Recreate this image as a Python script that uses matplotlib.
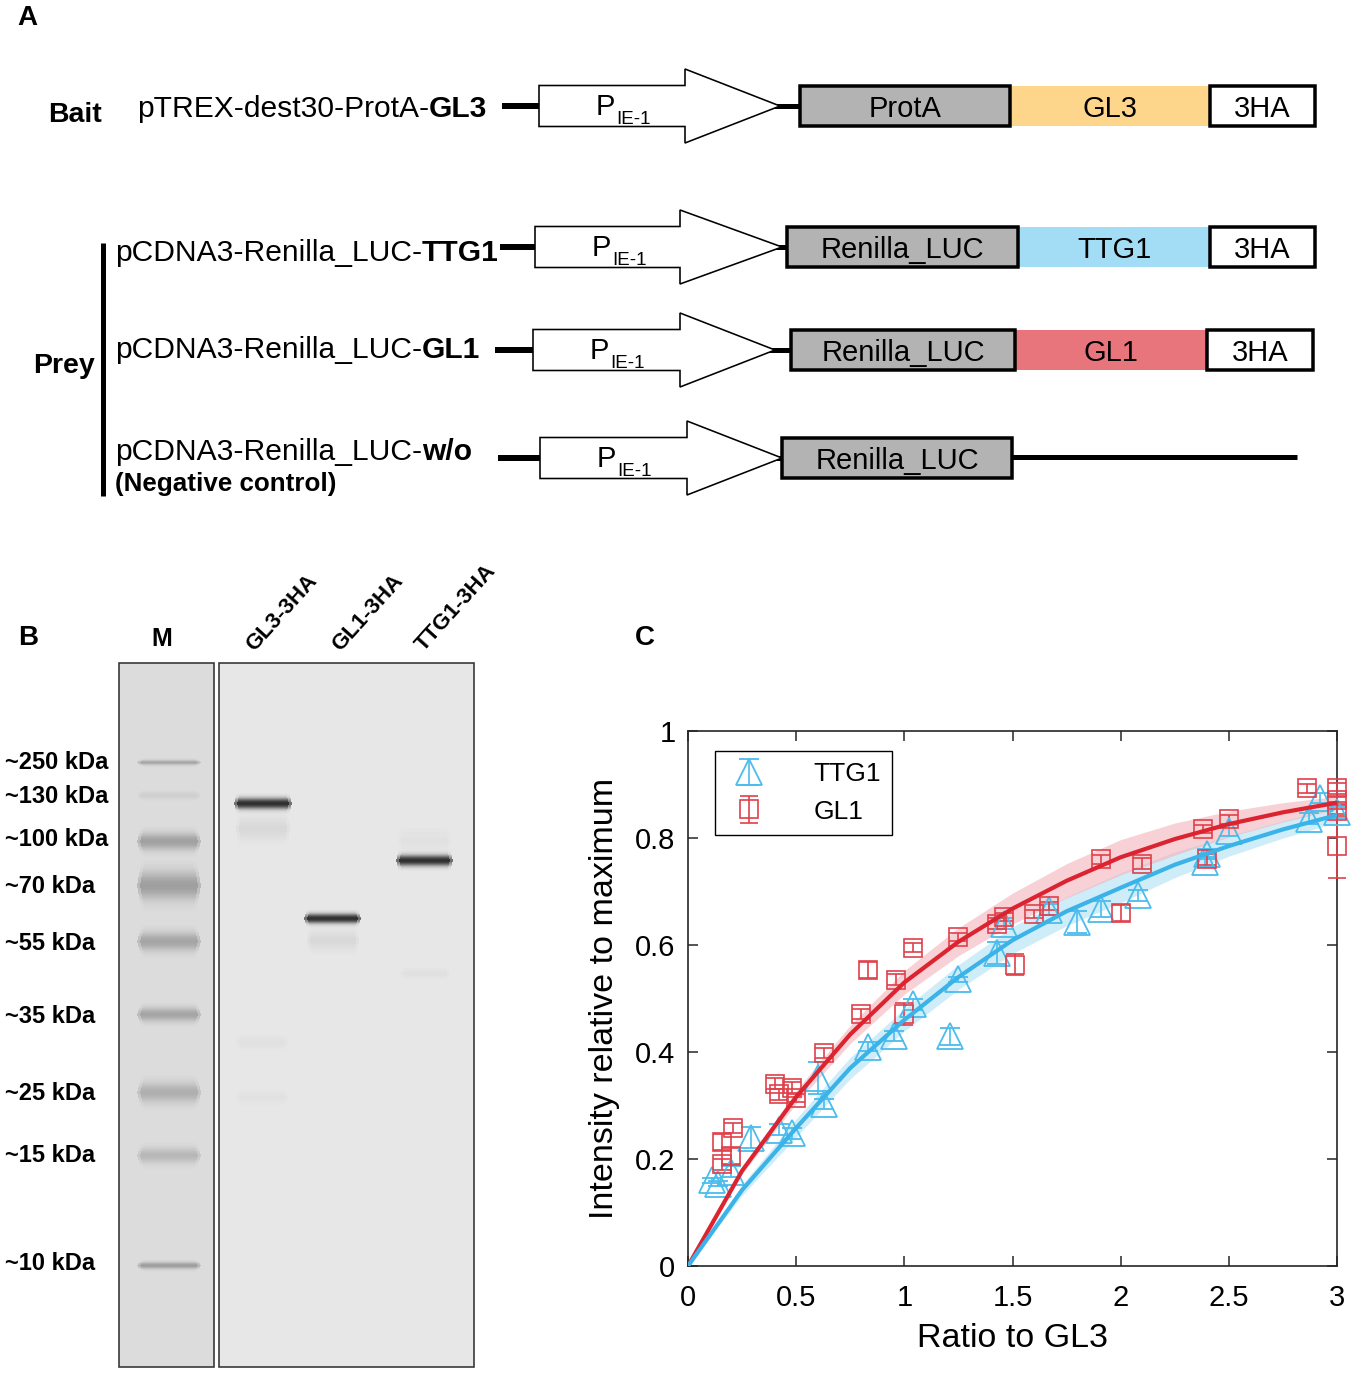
import matplotlib
matplotlib.use("Agg")
import numpy as np
import matplotlib.pyplot as plt
from matplotlib.patches import Rectangle, Polygon

plt.rcParams['font.family'] = ['Liberation Sans', 'DejaVu Sans']

W, H = 1358, 1375
FONT = ['Liberation Sans', 'DejaVu Sans']

# ---------------- panel A: constructs ----------------
construct_parts = [
    [("pTREX-dest30-ProtA-", "normal"), ("GL3", "bold")],
    [("pCDNA3-Renilla_LUC-", "normal"), ("TTG1", "bold")],
    [("pCDNA3-Renilla_LUC-", "normal"), ("GL1", "bold")],
    [("pCDNA3-Renilla_LUC-", "normal"), ("w/o", "bold")],
]
domain_labels = [
    ["ProtA", "GL3", "3HA"],
    ["Renilla_LUC", "TTG1", "3HA"],
    ["Renilla_LUC", "GL1", "3HA"],
    ["Renilla_LUC"],
]
domain_colors = [
    ["#b3b3b3", "#fdd68c", "white"],
    ["#b3b3b3", "#a3dcf5", "white"],
    ["#b3b3b3", "#e8747c", "white"],
    ["#b3b3b3"],
]
promoter = ("P", "IE-1")

# ---------------- panel B: western blot ----------------
lane_labels = ["GL3-3HA", "GL1-3HA", "TTG1-3HA"]
ladder_labels = ["~250 kDa", "~130 kDa", "~100 kDa", "~70 kDa", "~55 kDa",
                 "~35 kDa", "~25 kDa", "~15 kDa", "~10 kDa"]

# ---------------- panel C: binding curves ----------------
ttg1_x = [0.11, 0.14, 0.20, 0.29, 0.42, 0.48, 0.60, 0.63, 0.83, 0.95, 1.04, 1.21,
          1.25, 1.43, 1.46, 1.67, 1.80, 1.91, 2.08, 2.39, 2.40, 2.50, 2.87, 2.92, 3.00]
ttg1_y = [0.160, 0.154, 0.176, 0.240, 0.255, 0.248, 0.352, 0.303, 0.410, 0.430, 0.489, 0.429,
          0.536, 0.585, 0.640, 0.666, 0.643, 0.668, 0.693, 0.755, 0.770, 0.814, 0.836, 0.875, 0.848]
ttg1_err = [0.005, 0.005, 0.010, 0.020, 0.010, 0.010, 0.030, 0.010, 0.008, 0.010, 0.010, 0.015,
            0.005, 0.020, 0.010, 0.010, 0.020, 0.015, 0.010, 0.010, 0.010, 0.010, 0.010, 0.010, 0.010]

gl1_x = [0.155, 0.155, 0.20, 0.21, 0.40, 0.42, 0.48, 0.50, 0.63, 0.80, 0.83, 0.96, 1.00, 1.04,
         1.25, 1.43, 1.46, 1.51, 1.60, 1.67, 1.91, 2.00, 2.10, 2.38, 2.40, 2.50, 2.86,
         3.00, 3.00, 3.00, 3.00]
gl1_y = [0.231, 0.190, 0.206, 0.258, 0.341, 0.321, 0.333, 0.314, 0.398, 0.471, 0.553, 0.535,
         0.471, 0.595, 0.615, 0.640, 0.652, 0.563, 0.658, 0.673, 0.760, 0.660, 0.752, 0.817,
         0.760, 0.835, 0.893, 0.893, 0.871, 0.851, 0.785]
gl1_err = [0.015, 0.010, 0.015, 0.010, 0.010, 0.010, 0.010, 0.008, 0.010, 0.010, 0.015, 0.010,
           0.020, 0.008, 0.008, 0.010, 0.008, 0.020, 0.008, 0.008, 0.008, 0.015, 0.010, 0.008,
           0.010, 0.008, 0.008, 0.010, 0.008, 0.010, 0.060]

fit_x = [0.0, 0.25, 0.5, 0.75, 1.0, 1.25, 1.5, 1.75, 2.0, 2.25, 2.5, 2.75, 3.0]
ttg1_fit = [0.0, 0.142, 0.258, 0.370, 0.460, 0.540, 0.609, 0.663, 0.707, 0.750, 0.785, 0.816, 0.843]
gl1_fit = [0.0, 0.178, 0.316, 0.433, 0.530, 0.606, 0.668, 0.720, 0.764, 0.798, 0.826, 0.848, 0.866]
ttg1_band = [0.0, 0.010, 0.017, 0.020, 0.021, 0.023, 0.025, 0.027, 0.028, 0.024, 0.019, 0.016, 0.014]
gl1_band = [0.0, 0.006, 0.012, 0.017, 0.022, 0.026, 0.029, 0.032, 0.033, 0.030, 0.024, 0.018, 0.012]

x_ticks = [0, 0.5, 1, 1.5, 2, 2.5, 3]
x_tick_labels = ["0", "0.5", "1", "1.5", "2", "2.5", "3"]
y_ticks = [0, 0.2, 0.4, 0.6, 0.8, 1.0]
y_tick_labels = ["0", "0.2", "0.4", "0.6", "0.8", "1"]

BLUE = "#4bbcec"
BLUE_LINE = "#3bb3e8"
RED = "#e0404a"
RED_LINE = "#dc2330"

PX = 0.72  # points per pixel at dpi 100


def put_parts(ax, x, y, parts, size, renderer):
    for s, weight in parts:
        t = ax.text(x, y, s, fontsize=size, fontweight=weight, ha='left',
                    va='baseline', family=FONT)
        x += t.get_window_extent(renderer=renderer).width
    return x


def draw_promoter(ax, x0, xh, xt, yc, renderer):
    h, hh = 20.5, 37
    pts = [(x0, yc - h), (xh, yc - h), (xh, yc - hh), (xt, yc),
           (xh, yc + hh), (xh, yc + h), (x0, yc + h)]
    ax.add_patch(Polygon(pts, closed=True, facecolor='white', edgecolor='black',
                         lw=1.6 * PX, zorder=3))
    px = x0 + 57
    t = ax.text(px, yc + 9, promoter[0], fontsize=21, ha='left', va='baseline')
    w = t.get_window_extent(renderer=renderer).width
    ax.text(px + w + 1, yc + 18, promoter[1], fontsize=13.5, ha='left', va='baseline')


def draw_panel_a(ax, renderer):
    ax.text(17, 25, "A", fontsize=20, fontweight='bold', va='baseline')
    # row geometry: text x, text baseline, line start, arrow start, head start, tip, row centre
    rows = [
        (137, 117, 502, 539, 685, 780, 106),
        (115, 261, 500, 535, 680, 782, 247),
        (115, 358, 495, 533, 680, 775, 350),
        (115, 460, 498, 540, 687, 782, 458),
    ]
    box_edges = [
        [800, 1010, 1210, 1315],
        [787, 1018, 1210, 1315],
        [791, 1015, 1207, 1313],
        [782, 1012],
    ]
    for i, (tx, tb, l0, a0, ah, at, yc) in enumerate(rows):
        put_parts(ax, tx, tb, construct_parts[i], 21.6, renderer)
        ax.plot([l0, a0], [yc, yc], color='black', lw=6 * PX, solid_capstyle='butt', zorder=2)
        edges = box_edges[i]
        ax.plot([at - 5, edges[0]], [yc, yc], color='black', lw=5 * PX, zorder=2)
        draw_promoter(ax, a0, ah, at, yc, renderer)
        for j, lab in enumerate(domain_labels[i]):
            xa, xb = edges[j], edges[j + 1]
            col = domain_colors[i][j]
            bordered = col in ("#b3b3b3", "white")
            ax.add_patch(Rectangle((xa, yc - 20), xb - xa, 40, facecolor=col,
                                   edgecolor='black' if bordered else 'none',
                                   lw=3.5 * PX if bordered else 0,
                                   zorder=5 if bordered else 4))
            ax.text((xa + xb) / 2, yc + 10.5, lab, fontsize=21, ha='center',
                    va='baseline', zorder=6)
    # empty vector tail
    ax.plot([box_edges[3][1], 1297], [rows[3][6] - 1, rows[3][6] - 1], color='black',
            lw=5 * PX, solid_capstyle='butt', zorder=2)
    ax.text(115, 491, "(Negative control)", fontsize=18.7, fontweight='bold', va='baseline')
    ax.text(48, 122, "Bait", fontsize=20.5, fontweight='bold', va='baseline')
    ax.text(33, 373, "Prey", fontsize=20.5, fontweight='bold', va='baseline')
    ax.plot([103, 103], [243, 496], color='black', lw=5 * PX, solid_capstyle='butt')


def gel_band(ax, x0, x1, yc, sigma, color, peak, taper=4.0):
    # soft band: one thin strip per pixel row, fading away from the centre
    n = int(np.ceil(3 * sigma))
    for dy in range(-n, n + 1):
        a = peak * np.exp(-0.5 * (dy / sigma) ** 2)
        if a < 0.01:
            continue
        ins = taper * abs(dy) / n
        for k, shrink in enumerate((0.0, 3.0)):
            ax.add_patch(Rectangle((x0 + ins + shrink, yc + dy - 0.5),
                                   x1 - x0 - 2 * (ins + shrink), 1.0,
                                   facecolor=color, edgecolor='none',
                                   alpha=a * (0.55 if k == 0 else 0.6), zorder=3))


def draw_panel_b(ax):
    ax.text(18, 645, "B", fontsize=20, fontweight='bold', va='baseline')
    ax.text(162, 646, "M", fontsize=18, fontweight='bold', ha='center', va='baseline')
    for lab, x in zip(lane_labels, [254, 340, 424]):
        ax.text(x, 652, lab, fontsize=16, fontweight='bold', rotation=48,
                rotation_mode='anchor', ha='left', va='baseline')
    # membranes
    ax.add_patch(Rectangle((119, 663), 95, 704, facecolor='#dcdcdc',
                           edgecolor='#333333', lw=1.6 * PX, zorder=2))
    ax.add_patch(Rectangle((219, 663), 255, 704, facecolor='#e7e7e7',
                           edgecolor='#333333', lw=1.6 * PX, zorder=2))
    # ladder
    ladder_y = [762, 795, 841, 885, 941, 1014, 1092, 1155, 1265]
    ladder_s = [1.6, 2.5, 5.5, 9.0, 6.0, 4.5, 6.5, 5.0, 2.2]
    ladder_a = [0.45, 0.10, 0.52, 0.55, 0.48, 0.48, 0.38, 0.30, 0.55]
    label_y = [762, 796, 839, 886, 943, 1016, 1094, 1156, 1264]
    for lab, yb, sb, ab, yl in zip(ladder_labels, ladder_y, ladder_s, ladder_a, label_y):
        gel_band(ax, 137, 201, yb, sb, '#6a6a6a', ab, taper=5)
        ax.text(5, yl, lab, fontsize=17, fontweight='bold', va='center')
    # sample bands: main bands and faint shadows
    gel_band(ax, 234, 292, 803, 3.4, '#000000', 0.95, taper=3)
    gel_band(ax, 236, 290, 828, 7.0, '#9a9a9a', 0.16, taper=3)
    gel_band(ax, 304, 361, 918, 3.0, '#000000', 0.95, taper=3)
    gel_band(ax, 307, 359, 940, 6.0, '#9a9a9a', 0.16, taper=3)
    gel_band(ax, 396, 453, 860, 3.4, '#000000', 0.95, taper=3)
    gel_band(ax, 398, 451, 840, 7.0, '#9a9a9a', 0.05, taper=3)
    gel_band(ax, 400, 450, 973, 3.0, '#9a9a9a', 0.07, taper=3)
    gel_band(ax, 236, 288, 1042, 4.0, '#9a9a9a', 0.06, taper=3)
    gel_band(ax, 236, 288, 1097, 4.0, '#9a9a9a', 0.05, taper=3)


def draw_panel_c(fig):
    ax = fig.add_axes([688 / W, (H - 1266) / H, 649 / W, 535 / H])
    xs = fit_x
    ax.fill_between(xs, [m - b for m, b in zip(ttg1_fit, ttg1_band)],
                    [m + b for m, b in zip(ttg1_fit, ttg1_band)],
                    color='#bfe6f8', alpha=0.75, lw=0, zorder=1)
    ax.fill_between(xs, [m - b for m, b in zip(gl1_fit, gl1_band)],
                    [m + b for m, b in zip(gl1_fit, gl1_band)],
                    color='#f3b3b9', alpha=0.6, lw=0, zorder=1)
    e1 = ax.errorbar(ttg1_x, ttg1_y, yerr=ttg1_err, fmt='^', ms=19, mfc='none',
                     mec=BLUE, mew=1.3, ecolor=BLUE, elinewidth=1.2, capsize=7,
                     capthick=1.2, label='TTG1', zorder=3)
    e2 = ax.errorbar(gl1_x, gl1_y, yerr=gl1_err, fmt='s', ms=13, mfc='none',
                     mec=RED, mew=1.2, ecolor=RED, elinewidth=1.2, capsize=6.5,
                     capthick=1.2, label='GL1', zorder=3)
    for cont in (e1, e2):
        for art in cont.get_children():
            art.set_clip_on(False)
    ax.plot(xs, gl1_fit, color=RED_LINE, lw=3.0, zorder=4)
    ax.plot(xs, ttg1_fit, color=BLUE_LINE, lw=3.0, zorder=4)

    ax.set_xlim(0, 3)
    ax.set_ylim(0, 1)
    ax.set_xticks(x_ticks, x_tick_labels)
    ax.set_yticks(y_ticks, y_tick_labels)
    ax.tick_params(direction='in', length=7, width=1.1, top=True, right=True,
                   labelsize=21, colors='#262626', labelcolor='black')
    ax.tick_params(axis='x', pad=13)
    ax.tick_params(axis='y', pad=9)
    for sp in ax.spines.values():
        sp.set_linewidth(1.2)
        sp.set_color('#262626')
    ax.set_xlabel("Ratio to GL3", fontsize=24.5, labelpad=8)
    ax.set_ylabel("Intensity relative to maximum", fontsize=24.5, labelpad=11)
    leg = ax.legend(handles=[e1, e2], loc='upper left', bbox_to_anchor=(0.042, 0.962),
                    borderaxespad=0, fontsize=19, fancybox=False, framealpha=1,
                    edgecolor='black', handlelength=1.7, handletextpad=1.6,
                    borderpad=0.42, labelspacing=0.5)
    leg.get_frame().set_linewidth(1.0)
    fig.text(635 / W, 1 - 645 / H, "C", fontsize=20, fontweight='bold', va='baseline')


fig = plt.figure(figsize=(W / 100, H / 100), dpi=100)
ax0 = fig.add_axes([0, 0, 1, 1])
ax0.set_xlim(0, W)
ax0.set_ylim(H, 0)
ax0.axis('off')
renderer = fig.canvas.get_renderer()

draw_panel_a(ax0, renderer)
draw_panel_b(ax0)
draw_panel_c(fig)

fig.savefig("out.png", dpi=100)
